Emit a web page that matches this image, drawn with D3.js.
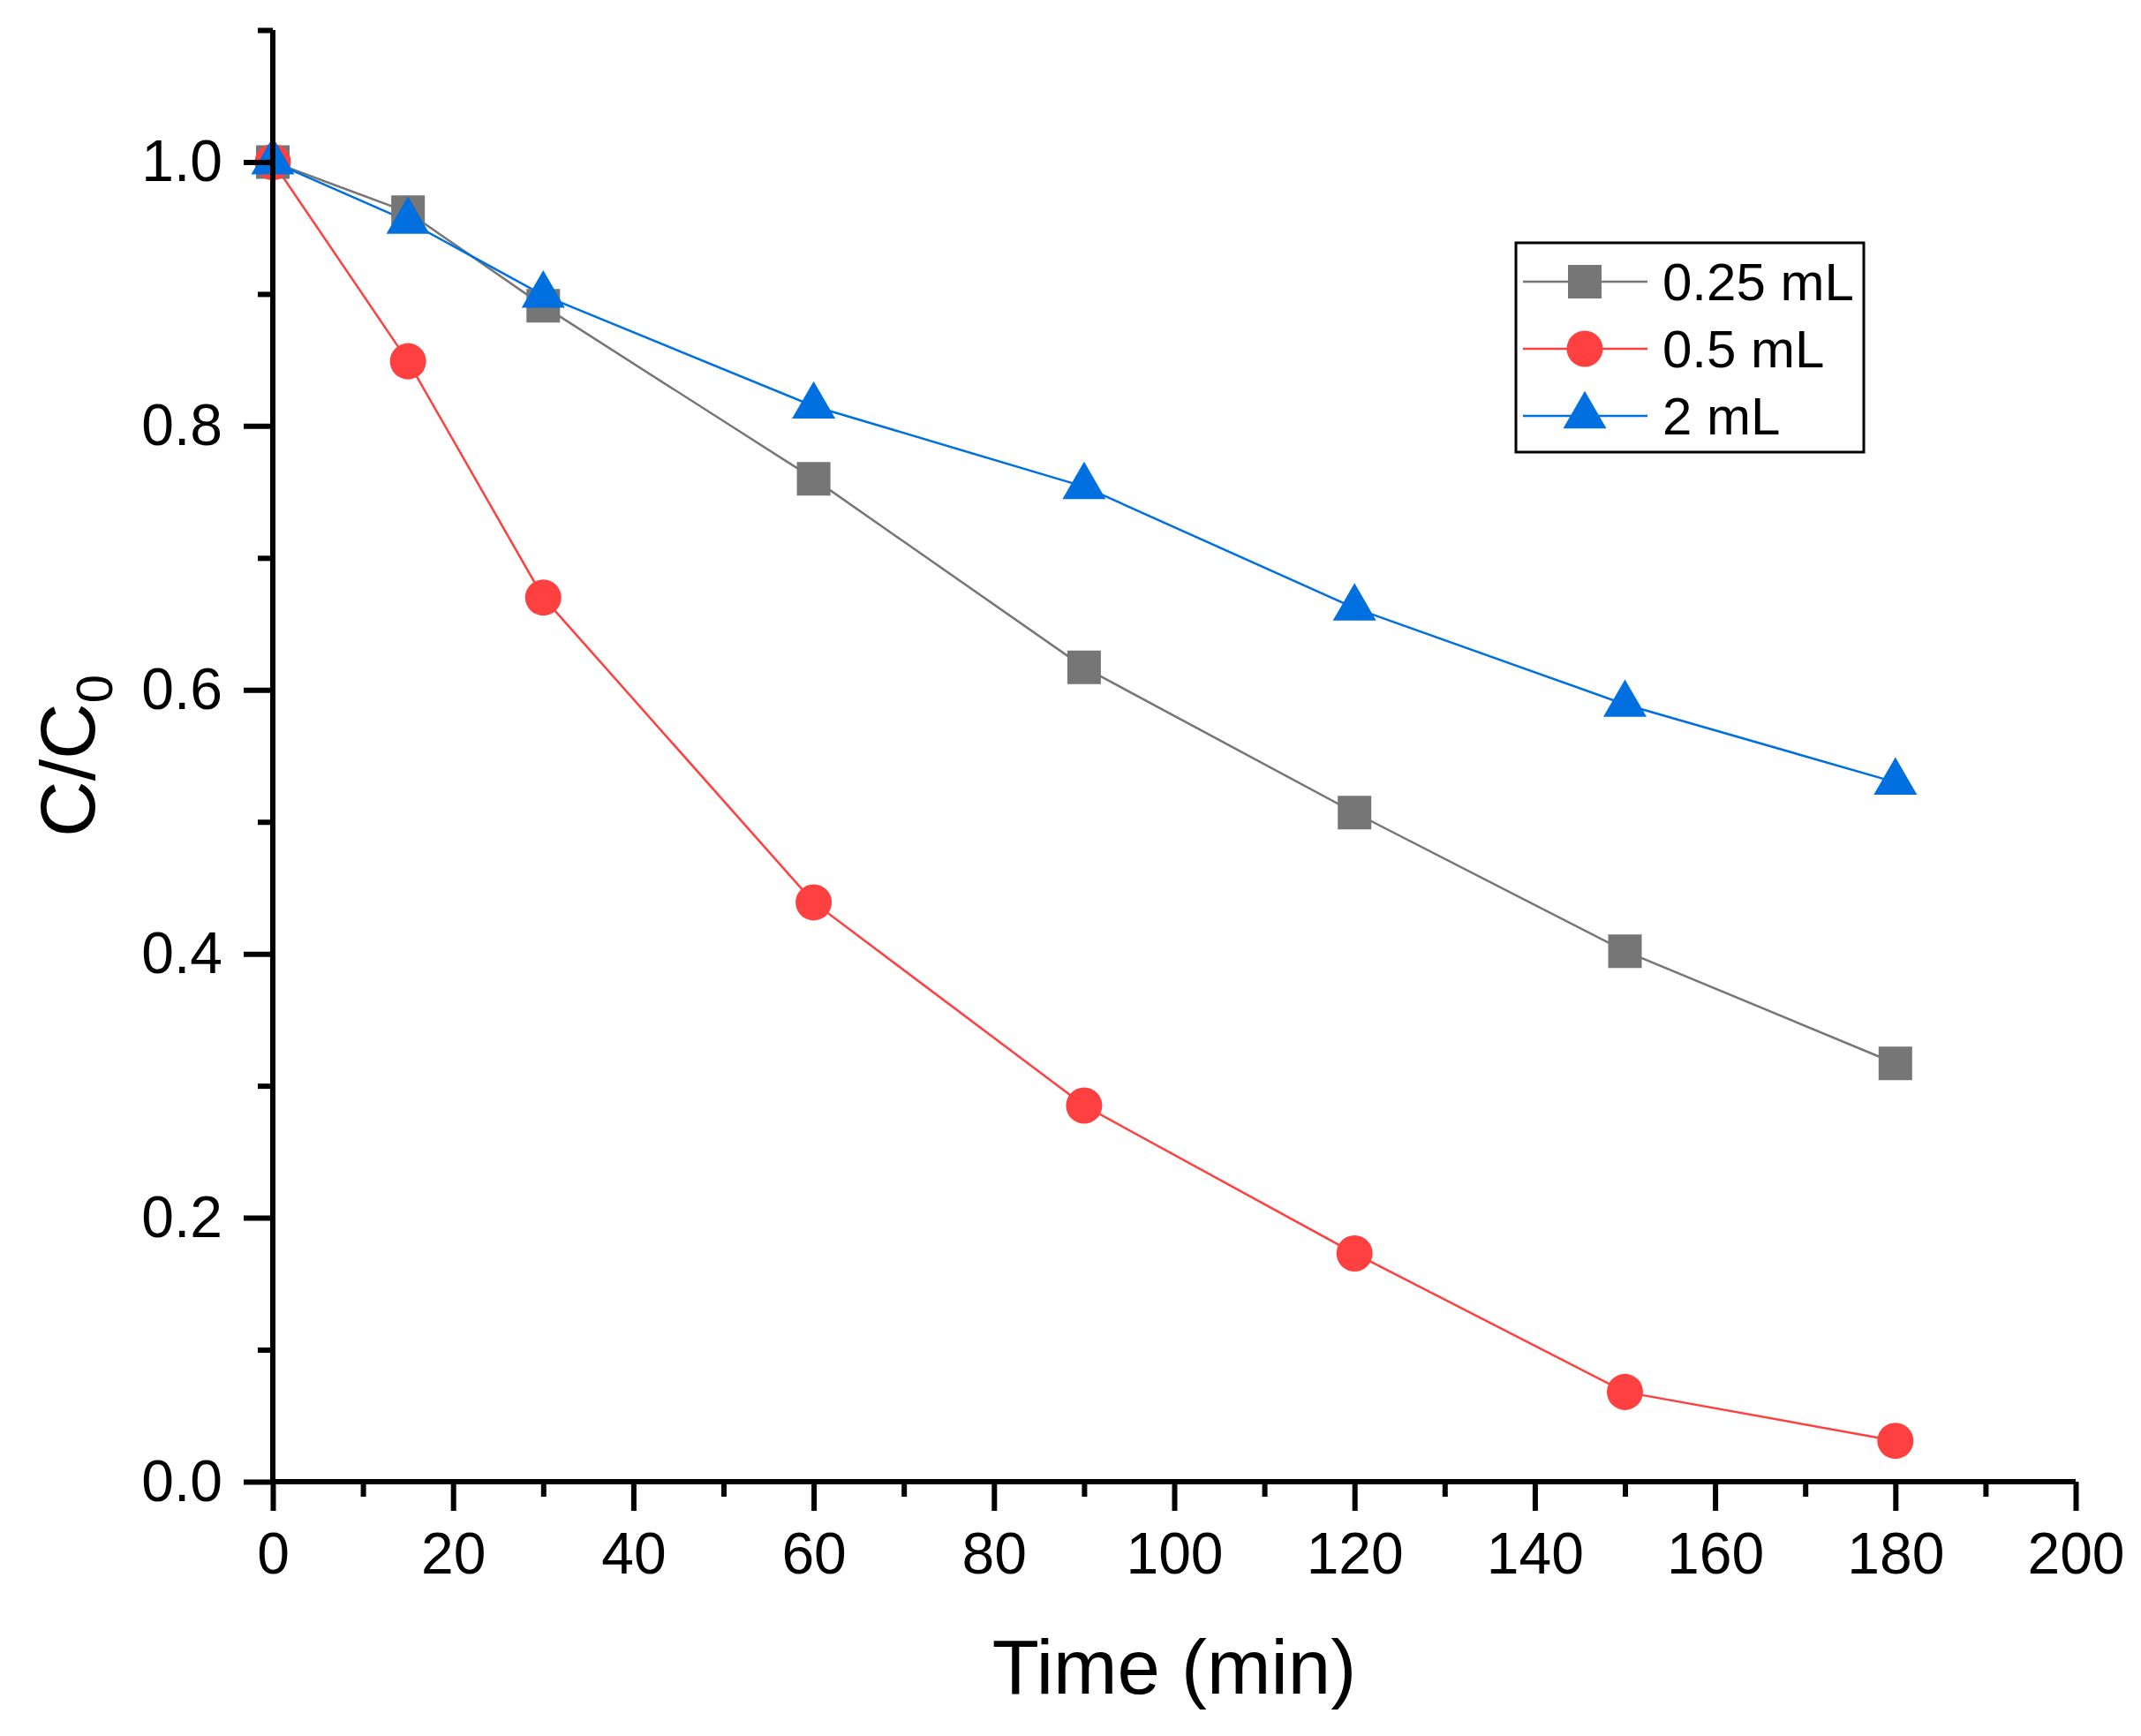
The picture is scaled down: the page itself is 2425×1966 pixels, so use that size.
<!DOCTYPE html>
<html>
<head>
<meta charset="utf-8">
<script src="https://cdn.jsdelivr.net/npm/d3@7"></script>
<style>
  html, body { margin: 0; padding: 0; background: #fff; }
  svg { display: block; font-family: "Liberation Sans", Arial, sans-serif; }
</style>
</head>
<body>
<div id="chart"></div>
<script>
// data
const times = [0, 15, 30, 60, 90, 120, 150, 180];
const vol025 = [1.0, 0.962, 0.891, 0.760, 0.617, 0.507, 0.402, 0.317];
const vol05 = [1.0, 0.849, 0.670, 0.439, 0.285, 0.173, 0.068, 0.031];
const vol2 = [1.0, 0.955, 0.899, 0.815, 0.754, 0.662, 0.589, 0.530];
const seriesNames = ["0.25 mL", "0.5 mL", "2 mL"];
const xTicks = [0, 20, 40, 60, 80, 100, 120, 140, 160, 180, 200];
const xMinorTicks = [10, 30, 50, 70, 90, 110, 130, 150, 170, 190];
const yTicks = [0.0, 0.2, 0.4, 0.6, 0.8, 1.0];
const yMinorTicks = [0.1, 0.3, 0.5, 0.7, 0.9, 1.1];

const width = 2425, height = 1966;
const margin = {top: 34, right: 74, bottom: 288, left: 309};

const series = [
  {name: seriesNames[0], values: vol025, color: "#767676", symbol: d3.symbolSquare, size: 38 * 38},
  {name: seriesNames[1], values: vol05, color: "#FF4040", symbol: d3.symbolCircle, size: Math.PI * 20.5 * 20.5},
  {name: seriesNames[2], values: vol2, color: "#0070E0", symbol: d3.symbolTriangle, size: 1040}
];

const x = d3.scaleLinear().domain([0, 200]).range([margin.left, width - margin.right]);
const y = d3.scaleLinear().domain([0, 1.1]).range([height - margin.bottom, margin.top]);

const svg = d3.select("#chart").append("svg")
    .attr("width", width)
    .attr("height", height);

// lines first, markers on top
const line = d3.line().x((d, i) => x(times[i])).y(d => y(d));

series.forEach(s => {
  svg.append("path")
      .datum(s.values)
      .attr("fill", "none")
      .attr("stroke", s.color)
      .attr("stroke-width", 2.5)
      .attr("d", line);
});

series.forEach(s => {
  svg.append("g")
    .selectAll("path")
    .data(s.values)
    .join("path")
      .attr("transform", (d, i) => `translate(${x(times[i])},${y(d)})`)
      .attr("fill", s.color)
      .attr("d", d3.symbol(s.symbol, s.size));
});

// axes
const axisStroke = 6;
const styleAxis = g => {
  g.selectAll(".domain").remove();
  g.selectAll("line").attr("stroke", "#000").attr("stroke-width", axisStroke);
  g.selectAll("text")
      .attr("font-size", 66)
      .attr("fill", "#000")
      .attr("font-family", "Liberation Sans, Arial, sans-serif");
};

const xBase = height - margin.bottom;

svg.append("g")
    .attr("transform", `translate(0,${xBase})`)
    .call(d3.axisBottom(x).tickValues(xMinorTicks).tickSize(17).tickFormat(""))
    .call(styleAxis);

svg.append("g")
    .attr("transform", `translate(0,${xBase})`)
    .call(d3.axisBottom(x).tickValues(xTicks).tickSize(33).tickPadding(24).tickFormat(d3.format("d")))
    .call(styleAxis);

svg.append("g")
    .attr("transform", `translate(${margin.left},0)`)
    .call(d3.axisLeft(y).tickValues(yMinorTicks).tickSize(17).tickFormat(""))
    .call(styleAxis);

svg.append("g")
    .attr("transform", `translate(${margin.left},0)`)
    .call(d3.axisLeft(y).tickValues(yTicks).tickSize(33).tickPadding(24).tickFormat(d3.format(".1f")))
    .call(styleAxis);

// axis lines
svg.append("line")
    .attr("x1", margin.left - axisStroke / 2).attr("x2", width - margin.right)
    .attr("y1", xBase).attr("y2", xBase)
    .attr("stroke", "#000").attr("stroke-width", axisStroke);
svg.append("line")
    .attr("x1", margin.left).attr("x2", margin.left)
    .attr("y1", margin.top).attr("y2", xBase + axisStroke / 2)
    .attr("stroke", "#000").attr("stroke-width", axisStroke);

// axis titles
svg.append("text")
    .attr("x", x(100))
    .attr("y", 1918)
    .attr("text-anchor", "middle")
    .attr("font-size", 87)
    .text("Time (min)");

const yTitle = svg.append("text")
    .attr("transform", `translate(107,${y(0.55)}) rotate(-90)`)
    .attr("text-anchor", "middle")
    .attr("font-size", 88);
yTitle.append("tspan").text("C/C");
yTitle.append("tspan").attr("font-size", 58).attr("dy", 20).text("0");

// legend
const legend = svg.append("g").attr("transform", "translate(1717,275)");
legend.append("rect")
    .attr("width", 394)
    .attr("height", 237)
    .attr("fill", "#fff")
    .attr("stroke", "#000")
    .attr("stroke-width", 3);

series.forEach((s, i) => {
  const cy = 44 + i * 76;
  const g = legend.append("g").attr("transform", `translate(0,${cy})`);
  g.append("line")
      .attr("x1", 8).attr("x2", 149)
      .attr("stroke", s.color).attr("stroke-width", 2.5);
  g.append("path")
      .attr("transform", "translate(78,0)")
      .attr("fill", s.color)
      .attr("d", d3.symbol(s.symbol, s.size));
  g.append("text")
      .attr("x", 166)
      .attr("y", 21)
      .attr("font-size", 60)
      .text(s.name);
});
</script>
</body>
</html>
